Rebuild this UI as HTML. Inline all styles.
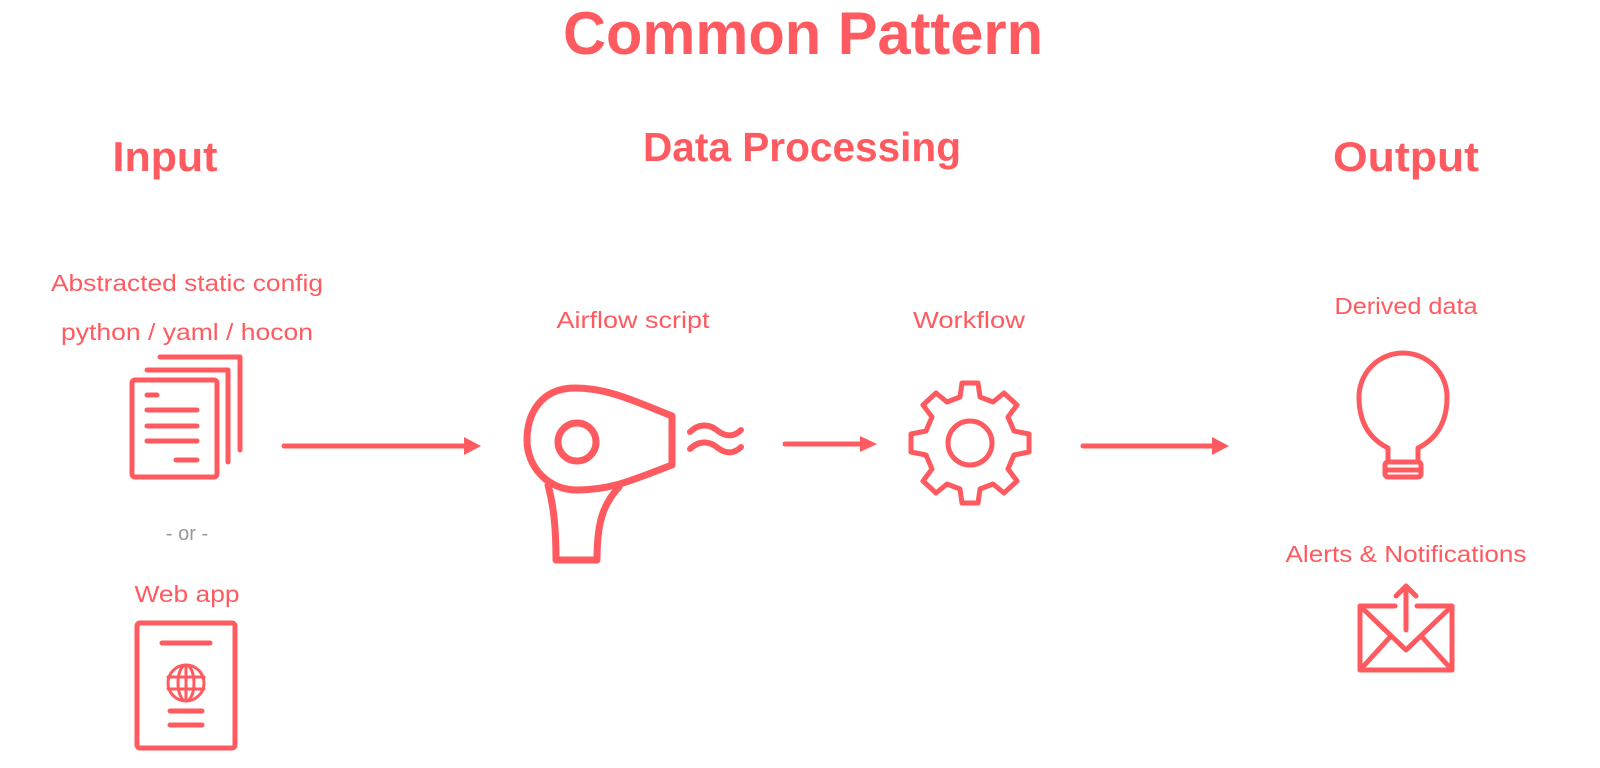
<!DOCTYPE html>
<html><head><meta charset="utf-8"><style>
html,body{margin:0;padding:0;background:#fff;}
svg{display:block}
text{font-family:"Liberation Sans",sans-serif;fill:#ff5a5f;text-anchor:middle}
</style></head><body>
<svg width="1600" height="768" viewBox="0 0 1600 768" xmlns="http://www.w3.org/2000/svg">
<text x="803" y="54" font-size="60" font-weight="bold" textLength="480" lengthAdjust="spacingAndGlyphs">Common Pattern</text>
<text x="165" y="171" font-size="42" font-weight="bold" textLength="105" lengthAdjust="spacingAndGlyphs">Input</text>
<text x="802" y="161" font-size="41" font-weight="bold" textLength="318" lengthAdjust="spacingAndGlyphs">Data Processing</text>
<text x="1406" y="171" font-size="42" font-weight="bold" textLength="146" lengthAdjust="spacingAndGlyphs">Output</text>
<text x="187" y="291" font-size="23" textLength="272" lengthAdjust="spacingAndGlyphs">Abstracted static config</text>
<text x="187" y="340" font-size="23" textLength="252" lengthAdjust="spacingAndGlyphs">python / yaml / hocon</text>
<text x="633" y="328" font-size="23" textLength="153" lengthAdjust="spacingAndGlyphs">Airflow script</text>
<text x="969" y="328" font-size="23" textLength="112" lengthAdjust="spacingAndGlyphs">Workflow</text>
<text x="1406" y="314" font-size="23" textLength="143" lengthAdjust="spacingAndGlyphs">Derived data</text>
<text x="1406" y="562" font-size="23" textLength="241" lengthAdjust="spacingAndGlyphs">Alerts &amp; Notifications</text>
<text x="187" y="540" font-size="20" style="fill:#999">- or -</text>
<text x="187" y="602" font-size="23" textLength="105" lengthAdjust="spacingAndGlyphs">Web app</text>

<g fill="none" stroke="#ff5a5f" stroke-width="5" stroke-linecap="round" stroke-linejoin="round">
<!-- docs -->
<path d="M160 357 H240 V450"/>
<path d="M147 370 H228 V462"/>
<rect x="132" y="380" width="85" height="97" rx="3"/>
<path d="M147 395 H157 M147 410 H197 M147 426 H197 M147 441 H197 M176 460 H197"/>
<!-- web app -->
<rect x="137" y="623" width="98" height="125" rx="3"/>
<path d="M162 643 H210 M170 711 H202 M170 725 H202"/>
<g stroke-width="3"><circle cx="186" cy="683" r="18"/><ellipse cx="186" cy="683" rx="8" ry="18"/><path d="M168 677 H204 M168 689 H204 M186 665 V701"/></g>
<!-- arrows -->
<path d="M284 446 H466"/><path d="M785 444 H862"/><path d="M1083 446 H1214"/>
<!-- dryer -->
<path d="M575 388 C540 388 527 415 527 440 C527 467 548 490 577 490 C612 490 632 480 672 465 V416 C632 400 607 388 575 388 Z" stroke-width="7"/>
<circle cx="577" cy="442" r="19" stroke-width="7"/>
<path d="M548 485 C554 507 556 530 556 560 H597 C597 525 602 505 619 487" stroke-width="7"/>
<path d="M690 432 C700 422 711 425 718 431 C726 437 734 437 741 430 M690 449 C700 439 711 442 718 448 C726 454 734 454 741 447" stroke-width="6"/>
<!-- gear -->
<g transform="translate(970,443)" stroke-width="5">
<path d="M-8 -60 H8 L10 -46 L23 -41 L34 -50 L47 -38 L38 -26 L44 -12 L59 -9 V9 L44 12 L38 26 L47 38 L34 50 L23 41 L10 46 L8 60 H-8 L-10 46 L-23 41 L-34 50 L-47 38 L-38 26 L-44 12 L-59 9 V-9 L-44 -12 L-38 -26 L-47 -38 L-34 -50 L-23 -41 L-10 -46 Z"/>
<circle r="22"/></g>
<!-- bulb -->
<path d="M1388 448 C1372 440 1359 425 1359 397 A44 44 0 1 1 1447 397 C1447 425 1434 440 1418 448 V462 H1388 Z"/>
<rect x="1385" y="462" width="36" height="15" rx="3"/>
<path d="M1386 470 H1420"/>
<!-- envelope -->
<path d="M1395 606 H1360 V670 H1452 V606 H1417"/>
<path d="M1360 606 L1406 650 L1452 606 M1360 670 L1390 637 M1452 670 L1422 637"/>
<path d="M1406 630 V586 M1396 596 L1406 586 L1416 596"/>
</g>
<g fill="#ff5a5f"><path d="M481 446 L464 437 V455 Z"/><path d="M877 444 L860 436 V452 Z"/><path d="M1229 446 L1212 437 V455 Z"/></g>
</svg>
</body></html>
